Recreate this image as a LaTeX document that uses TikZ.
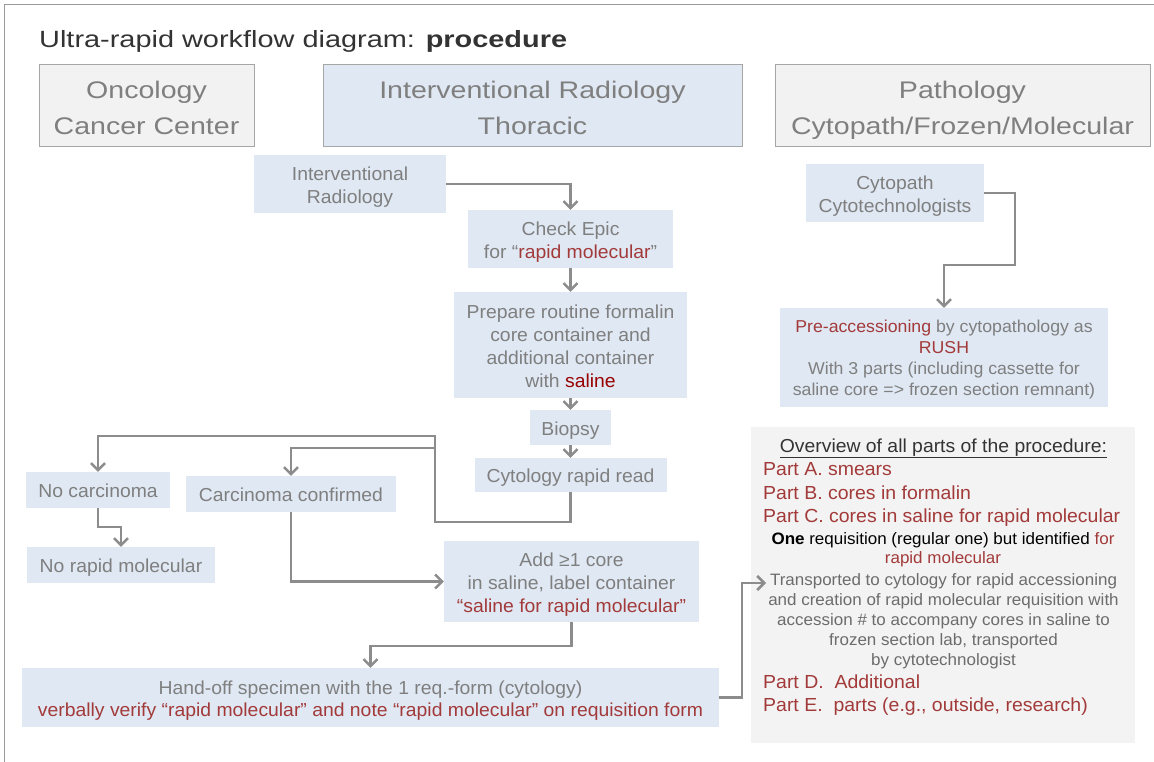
\documentclass[tikz,border=0pt]{standalone}
\usepackage{fontspec}
\setmainfont[FakeStretch=1.03]{Liberation Sans}
\newfontfamily\ttlfont[FakeStretch=1.23]{Liberation Sans}
\newfontfamily\hdrfont[FakeStretch=1.19]{Liberation Sans}
\usetikzlibrary{arrows.meta}
\definecolor{txt}{HTML}{7F7F7F}
\definecolor{ttl}{HTML}{333333}
\definecolor{rd}{HTML}{A33A3A}
\definecolor{drd}{HTML}{990000}
\definecolor{bluebox}{HTML}{DFE8F3}
\definecolor{graybox}{HTML}{F2F2F2}
\definecolor{ovbox}{HTML}{F3F3F3}
\definecolor{ln}{HTML}{8C8C8C}
\definecolor{hdrborder}{HTML}{A6A6A6}
\definecolor{frame}{HTML}{9A9A9A}
\newcommand{\bxtop}{\rule{0pt}{20.5pt}}
\newcommand{\bxbot}{\rule[-5pt]{0pt}{5pt}}
\newcommand{\sbtop}{\rule{0pt}{17pt}}
\newcommand{\hdtop}{\rule{0pt}{30pt}}
\newcommand{\hdbot}{\rule[-8pt]{0pt}{8pt}}
\begin{document}
\begin{tikzpicture}[x=1pt,y=-1pt,
  box/.style={fill=bluebox, text=txt, align=center, inner sep=0pt, font=\fontsize{18.8}{23}\selectfont},
  sbox/.style={fill=bluebox, text=txt, align=center, inner sep=0pt, font=\fontsize{17.2}{21}\selectfont},
  hdr/.style={draw=hdrborder, line width=1pt, text=txt, align=center, inner sep=0pt, font=\hdrfont\fontsize{24}{36}\selectfont},
  ovp/.style={anchor=base west, text=rd, inner sep=0pt, font=\fontsize{18.9}{23}\selectfont},
  ovs/.style={anchor=base, inner sep=0pt, font=\fontsize{16.5}{20}\selectfont},
  conn/.style={draw=ln, line width=2.5pt, -{Straight Barb[length=7pt,width=14pt]}}
]
\useasboundingbox (0,0) rectangle (1154,762);
% frame
\draw[frame, line width=1pt] (4,762) -- (4,5) -- (1154,5);
% title
\node[anchor=base west, inner sep=0pt, text=ttl, font=\ttlfont\fontsize{23.5}{28}\selectfont] (title) at (39,48) {Ultra-rapid workflow diagram: \textbf{procedure}};
% headers
\node[hdr, fill=graybox, minimum width=215, minimum height=82] (hOnc) at (146.5,106) {\hdtop Oncology\\Cancer Center\hdbot};
\node[hdr, fill=bluebox, minimum width=419, minimum height=82] (hIR) at (532.5,106) {\hdtop Interventional Radiology\\Thoracic\hdbot};
\node[hdr, fill=graybox, minimum width=375, minimum height=82] (hPath) at (962.5,106) {\hdtop Pathology\\Cytopath/Frozen/Molecular\hdbot};
% IR column
\node[box, minimum width=192, minimum height=58] (ir) at (350,184) {\bxtop Interventional\\Radiology\bxbot};
\node[box, minimum width=205, minimum height=58] (epic) at (570.5,239) {\bxtop Check Epic\\for “\textcolor{rd}{rapid molecular}”\bxbot};
\node[box, minimum width=233, minimum height=106] (prep) at (570.5,345) {\bxtop Prepare routine formalin\\core container and\\additional container\\with \textcolor{drd}{saline}\bxbot};
\node[box, minimum width=81, minimum height=35] (biopsy) at (570.5,427.5) {\bxtop Biopsy\bxbot};
\node[box, minimum width=192, minimum height=34] (cyto) at (570.5,475) {\bxtop Cytology rapid read\bxbot};
\node[box, minimum width=144, minimum height=36] (nocarc) at (98,490) {\bxtop No carcinoma\bxbot};
\node[box, minimum width=210, minimum height=36] (carc) at (291,494) {\bxtop Carcinoma confirmed\bxbot};
\node[box, minimum width=188, minimum height=36] (norapid) at (121,565) {\bxtop No rapid molecular\bxbot};
\node[box, minimum width=255, minimum height=81] (add) at (571.5,581.5) {\bxtop Add ≥1 core\\in saline, label container\\\textcolor{rd}{“saline for rapid molecular”}\bxbot};
\node[box, minimum width=697, minimum height=59, font=\fontsize{18.8}{22}\selectfont] (hand) at (370.5,697.5) {\bxtop Hand-off specimen with the 1 req.-form (cytology)\\\textcolor{rd}{verbally verify “rapid molecular” and note “rapid molecular” on requisition form}\bxbot};
% pathology column
\node[box, minimum width=178, minimum height=58] (cytopath) at (895,193) {\bxtop Cytopath\\Cytotechnologists\bxbot};
\node[sbox, minimum width=328, minimum height=99] (preacc) at (944,357.5) {\sbtop\textcolor{rd}{Pre-accessioning} by cytopathology as\\\textcolor{rd}{RUSH}\\With 3 parts (including cassette for\\saline core => frozen section remnant)\bxbot};
% overview
\node[fill=ovbox, inner sep=0pt, minimum width=384, minimum height=316] (ov) at (943,585) {};
\node[ovs, text=ttl, font=\fontsize{18.8}{22}\selectfont] (ovt) at (943.5,452) {\underline{Overview of all parts of the procedure:}};
\node[ovp] (pa) at (763,475) {Part A. smears};
\node[ovp] (pb) at (763,499) {Part B. cores in formalin};
\node[ovp] (pc) at (763,522.5) {Part C. cores in saline for rapid molecular};
\node[ovs, text=black] (one) at (943,544) {\textbf{One} requisition (regular one) but identified \textcolor{rd}{for}};
\node[ovs, text=rd] (rm) at (943,563) {rapid molecular};
\node[ovs, anchor=north, align=center, text=txt!85!black] (transp) at (943.5,573) {Transported to cytology for rapid accessioning\\and creation of rapid molecular requisition with\\accession \# to accompany cores in saline to\\frozen section lab, transported\\by cytotechnologist};
\node[ovp] (pd) at (763,688) {Part D.~~Additional};
\node[ovp] (pe) at (763,711.5) {Part E.~~parts (e.g., outside, research)};
% helper coordinates
\coordinate (j1) at (435,522);
\coordinate (j2) at (435,436);
\coordinate (j3) at (435,448);
\coordinate (k1) at (1015,265);
\coordinate (ovin) at (766,583);
% connectors
\draw[conn] (ir.east) -| (epic.north);
\draw[conn] (epic.south) -- (prep.north);
\draw[conn] (prep.south) -- (biopsy.north);
\draw[conn] (biopsy.south) -- (cyto.north);
\draw[conn] (cyto.south) |- (j1) -- (j2) -| (nocarc.north);
\draw[conn] (j3) -| (carc.north);
\draw[conn] (nocarc.south) -- ++(0,19) -| (norapid.north);
\draw[conn] (carc.south) |- (add.west);
\draw[conn] (add.south) -- ++(0,24) -| (hand.north);
\draw[conn] (hand.east) -- ++(23,0) |- (ovin);
\draw[conn] (cytopath.east) -| (k1) -| (preacc.north);
\end{tikzpicture}
\end{document}
